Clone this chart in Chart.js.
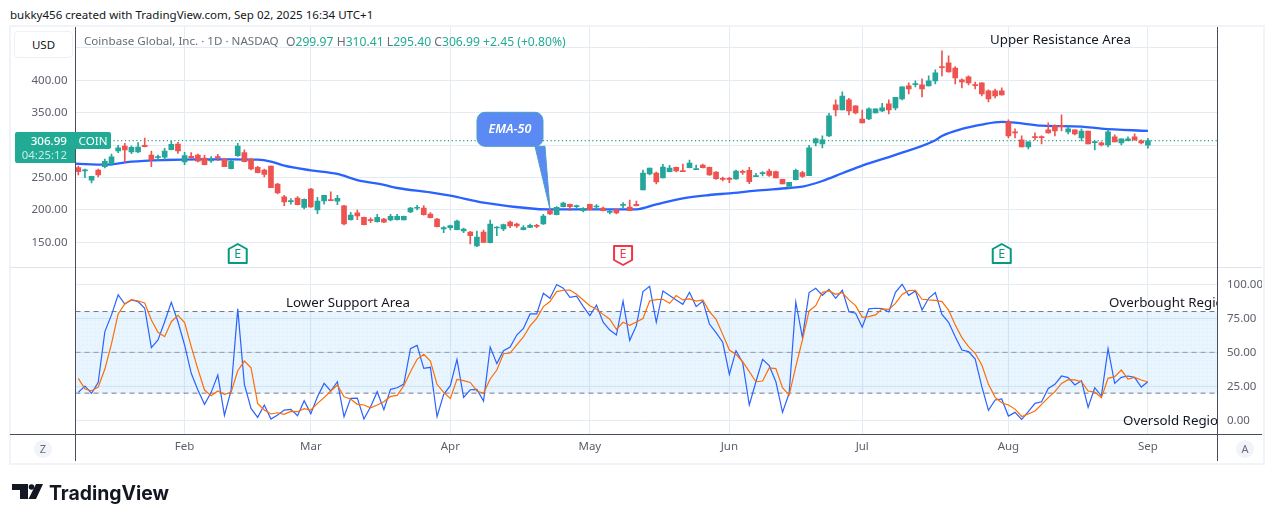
<!DOCTYPE html>
<html>
<head>
<meta charset="utf-8">
<title>COIN</title>
<script src="https://cdn.jsdelivr.net/npm/chart.js@4/dist/chart.umd.min.js"></script>
<style>
html, body { margin: 0; background: #fff; }
body { width: 1281px; height: 522px; position: relative; overflow: hidden; font-family: "Noto Sans", sans-serif; color: #131722; }
div, span { position: absolute; white-space: nowrap; }
canvas { position: absolute; left: 10px; }
#frame { left: 9px; top: 25px; width: 1252px; height: 436px; border: 2px solid #f0f3fa; }
#header { left: 10px; top: 7px; font-size: 11.55px; color: #131722; }
#usd { left: 14px; top: 31px; width: 57px; height: 25px; line-height: 25px; border: 1px solid #eef0f4; border-radius: 4px; text-align: center; font-size: 11.5px; background: #fff; }
#legend { left: 84px; top: 33px; font-size: 11.6px; color: #6a6d78; }
#values { left: 286px; top: 33px; font-size: 12.15px; color: #22ab94; }
#values b { font-weight: 400; color: #6a6d78; }
#priceTag { left: 15px; top: 132px; width: 60px; height: 31px; background: #22ab94; border-radius: 2px 0 0 2px; }
#priceNow { right: 8px; top: 1px; color: #fff; font-size: 11.6px; font-weight: 500; }
#countdown { right: 8px; top: 15px; color: #c6ece6; font-size: 11.4px; }
#coinTag { left: 75px; top: 132px; width: 36px; height: 17px; line-height: 17px; background: #22ab94; color: #fff; font-size: 11.6px; text-align: center; border-radius: 0 2px 2px 0; }
.vline { top: 27px; width: 1px; height: 434px; background: #4a4e5a; }
.hline { left: 10px; width: 1252px; height: 1px; }
.note { font-size: 13.3px; color: #131722; }
#clip { left: 76px; top: 27px; width: 1141px; height: 407px; overflow: hidden; }
.round { width: 18px; height: 18px; line-height: 18px; top: 440px; border-radius: 9px; background: #f0f3fa; color: #6a6d78; font-size: 11px; text-align: center; }
#brand { left: 49px; top: 481px; font-family: Inter, sans-serif; font-size: 19.4px; font-weight: 700; color: #131722; }
</style>
</head>
<body>
<div id="frame"></div>
<div id="header">bukky456 created with TradingView.com, Sep 02, 2025 16:34 UTC+1</div>
<canvas id="price_chart" width="1252" height="240" style="top:27px;width:1252px;height:240px"></canvas>
<canvas id="stoch_chart" width="1252" height="194" style="top:267px;width:1252px;height:194px"></canvas>
<div class="hline" style="top:267px;background:#e0e3eb"></div>
<div class="hline" style="top:434px;background:#4a4e5a"></div>
<div class="vline" style="left:75px"></div>
<div class="vline" style="left:1217px"></div>
<div id="usd">USD</div>
<div id="legend">Coinbase Global, Inc. · 1D · NASDAQ</div>
<div id="values"><b>O</b>299.97 <b>H</b>310.41 <b>L</b>295.40 <b>C</b>306.99 +2.45 (+0.80%)</div>
<div id="priceTag"><span id="priceNow">306.99</span><span id="countdown">04:25:12</span></div>
<div id="coinTag">COIN</div>
<div id="clip">
  <div class="note" style="left:914px;top:3px">Upper Resistance Area</div>
  <div class="note" style="left:210px;top:266px">Lower Support Area</div>
  <div class="note" style="left:1033px;top:266px">Overbought Region</div>
  <div class="note" style="left:1047px;top:384px">Oversold Region</div>
</div>
<div class="round" style="left:34px">Z</div>
<div class="round" style="left:1236px">A</div>
<svg style="position:absolute;left:12px;top:484px" width="31" height="15" viewBox="0 0 31 15">
  <path d="M0 0H16V15H8V6H0Z M24 0H31L24 15H16.5Z" fill="#131722"/><circle cx="19.5" cy="3" r="2.8" fill="#131722"/>
</svg>
<div id="brand">TradingView</div>

<script>
// last 162 daily candles
const opens = [265.2,260.1,245.7,261.6,266.7,271.4,290.9,298.6,289.4,289.4,299.7,284.7,280.6,281.2,293,301.7,274,282.7,284.7,280.1,275.5,281.7,278.1,263.7,283.7,288.3,278.6,265.7,261.6,267.8,240,220,212.8,218.4,204,232.3,199.9,213.8,215.3,213.3,206.1,185,195.3,188.6,184.5,181.9,186,184.5,185,184.5,196.8,202.5,203,193.7,186,170.5,172.6,169.5,167.5,165.9,144.3,165.9,149.4,172.1,170.5,181.3,178.3,169.5,173.1,175.7,178.3,198.8,192.6,205,208.6,205,198.8,208.6,204.5,203,196.3,200.4,207.1,204.5,208.6,230.7,255.4,256.9,249.2,259,265.7,260,265.2,262.1,269.3,265.7,258.5,248.2,248.2,247.7,259.5,261.1,251.3,255.9,260,259,247.2,236.4,246.7,257.5,252.9,303.3,301.8,314.1,362,354.2,369.7,360.4,340.3,340.3,349.6,352.7,363.5,357.3,371.2,391.3,393.3,392.8,391.3,399,420.6,426.8,419,400.5,405.2,392.8,395.9,383.6,383.6,383.6,335.7,319.8,308,297.2,312.6,312.6,323.4,329.6,329.6,320.3,323.4,311,321.8,303.8,303.3,300.2,312.6,303.3,306.9,312.6,306.4,299.97];
const highs = [267.8,263.1,251.8,263.1,278.6,286.3,299.7,302.7,298.6,303.8,311,290.9,284.7,295,305.8,304.3,288.9,288.3,286.3,284.2,282.2,285.8,279.6,277,302.7,292.5,279.6,267.3,263.1,267.8,241,222.5,217.4,220.5,216.9,233.3,219.4,222.5,227.7,222.5,207.1,196.3,199.9,189.1,187.6,193.2,187,193.2,193.2,190.6,204,207.1,206.6,195.7,187,174.1,176.7,184.4,172.1,166.9,167.5,169,184.4,174.1,178.3,182.9,179.8,175.7,178.3,177.7,193.2,200.9,205,212.2,209.1,207.6,203.5,209.1,208.1,204.5,199.3,201.4,211.2,215.3,213.7,261.6,264.7,258.5,270.3,268.8,266.2,270.8,277,269.3,270.8,266.2,259,250.8,250.3,261.6,261.6,265.7,256.4,259,263.1,260,247.7,242.5,263.1,259.5,299.7,311,314.1,349.1,369.7,382,372.2,360.4,354.2,357.3,355.8,364.5,369.7,373.8,389.7,395.9,399,402.1,406.7,416,445.3,437.6,421.1,402.1,406.7,397.4,395.9,385.1,386.6,388.2,338.8,324.9,314.1,304.9,318.8,314.1,334.2,331.1,346.5,328,323.4,324.9,321.8,306.4,304.9,323.4,315.7,309.5,312.6,317.2,308,310.41];
const lows = [253.9,249.8,241.5,250.8,264.7,268.8,288.3,273.4,286.8,288.3,297.1,266.7,276.5,277,292.5,287.3,269.8,279.6,274,269.3,273.4,276,266.7,263.1,282.7,274,261.6,257,250.8,234.4,224.6,206.6,209,207.6,201.4,204,194.2,209,214.3,208.1,176.7,184,185,176.7,180.3,180.9,180.3,182.9,184,184.5,195.8,199.9,191.7,187.5,173.6,164.9,169,169,164.9,147.4,143.3,149.4,148.9,160.3,168,172.6,173.1,169,172.6,172.6,177.7,192.6,192.1,204.5,198.8,202.4,196.8,199.9,200.9,198.3,193.7,193.7,203.5,198.8,206,230.7,253.9,240,249.2,258.5,258.5,259,264.7,262.1,264.7,253.3,247.2,244.6,242,247.2,254.9,240.5,251.3,252.3,251.8,249.2,240,233.3,246.1,250.3,252.9,298.7,295.6,313.1,345,354.2,346.5,348.1,334.2,339.3,349.6,351.7,348.1,354.2,369.7,378.9,389.7,374.3,391.3,394.4,406.7,412.4,394.4,388.2,392.8,386.6,375.8,366.6,372.8,376.9,311,311,297.2,294.1,308,301.8,318.2,314.1,321.8,317.2,315.7,306.4,301.8,292.5,298.7,297.2,304.9,300.2,306.4,307.4,301.8,295.4];
const closes = [259,261.1,251.8,253.9,275,281.7,295.6,292.5,296.6,297.1,297.6,277,281.7,290.9,301.2,290.9,283.7,280.6,275,269.8,276.5,280.6,266.7,275,298.6,274.5,263.1,257.5,254.9,234.4,226.1,212.2,213.8,208.1,216.3,204.5,213.8,222.5,214.3,217.9,178.3,192.2,190.6,177.3,183.4,188.6,180.9,190.1,190.1,190.1,203,204,192.7,188,174.1,172.6,175.7,182.9,170.5,160.3,158.2,150,178.3,173.1,177.2,175.2,175.2,172.6,176.2,174.6,190.6,193.7,204,210.6,205,206,202.4,200.4,205.5,198.8,197.3,195.2,208.1,198.8,206.5,256.9,264.7,243,266.2,264.7,260,259,272.4,263.1,265.2,253.9,248.2,247.2,247.2,260,258,243.6,252.3,256.9,253.3,249.2,240,242.5,261.1,251.8,295.6,309.5,308,345,354.2,375.8,352.7,349.6,334.2,355.8,355.8,357.3,354.2,373.8,389.7,386.6,394.4,386.6,399,411.3,419.6,412.9,403.6,397.4,395.9,391.8,378.9,371.2,375.8,377.4,314.1,318.8,297.2,304.9,311.6,311.6,318.8,321.8,328.5,324.9,317.2,321.8,301.8,304.9,300.2,320.3,304.9,309.5,309.5,308,303.3,306.99];

// EMA-50 read at these bars only
const emaBars = [-0.42,4,8,13,18,23,27,29,31,35,39,42,46,48,53,56,61,69,71,84,87,91,95,98,102,107,109,112,115,118,123,129,130,133,136,139,141,145,151,154,161];
const emaValues = [271.4,269.8,274.5,277,278,278,277.5,274.5,268.3,261.1,255.4,246,238.5,233.8,227.1,222,211.2,201.4,200.9,200.9,208.6,217.9,223,225.6,229.7,233.8,235.9,244.6,256.5,268.4,284.8,307.4,314.1,324.9,331.6,335.7,334.7,330,328.5,325.4,321.8];

// stochastic %K and %D
const stochK = [20.6,25.2,19.9,27.9,65.2,77.5,92.2,85.5,88.5,87.3,82.4,53.4,59.1,72.5,86.8,72.5,55.4,34.6,22.3,11.8,20.6,33.3,3.7,22.3,81.9,26.5,8.8,2.2,11.3,1,3.9,7.6,8.1,3.4,14.5,4.9,17.4,27.2,21.6,28.4,2.7,16.2,16.4,1,10,21.1,7.8,22.8,24,26.7,52.7,55.1,38.2,39,2.7,19.1,25.5,44.9,16.9,22.5,22.8,14.2,53.9,41.7,51.2,53.9,62.7,67.6,78.2,78.2,93.4,89.7,99.8,97.1,90.4,91.2,83.8,77,84.8,72.1,66.4,62.7,87.7,58.8,69.6,94.6,98.5,72.1,95.1,91.7,88.5,85.3,94.1,83.6,87.7,70.8,64.5,57.4,33.8,51.2,42.6,11.3,28.4,44.9,40.2,28.4,5.9,19.9,86.8,60.8,93.9,97.1,91.9,96.3,89.7,95.6,79.9,78.7,68.4,81.9,82.4,82.1,79.7,94.1,100,91.9,95.1,81.1,89.7,93.9,77.9,72.1,61.5,51.7,50.5,45.1,24.8,7.4,15,15.7,3.2,5.9,0.7,6.4,12.5,13.7,23.5,26.5,32.6,31.4,26,29.2,9.6,24,17.9,52.7,27.2,31.6,32.6,31.6,24.5,28.4];
const stochD = [30.9,23,21.8,24.5,37.7,56.4,78.2,85.5,88.7,87.7,86.3,73.8,64.7,61.5,72.5,77.2,71.8,54.2,37.7,22.3,18.1,21.6,19.1,20.6,36.5,43.6,38.7,12.5,7.6,4.7,5.6,4.4,6.6,6.4,8.6,7.6,12.5,16.7,21.6,26,17.4,15.7,11.8,11.3,9.3,11.3,13.7,17.6,18.4,25.5,35.8,44.9,48.5,43.6,26.5,20.6,16.2,30.1,29.2,27.9,21.6,19.9,30.4,37,49,49.5,55.4,61.3,69.4,75,83.6,87.3,94.6,95.6,95.8,92.6,88.5,84.3,81.6,77.9,74.3,66.9,72.1,69.9,72.3,74.8,87.7,88.7,89,86,91.7,88.5,89.2,87.7,88.5,79.9,74.3,63.2,51.7,48.5,43.1,35.8,28.4,28.9,38.5,38,24,18.6,39.5,59.1,80.4,84.3,94.1,95.1,92.6,93.9,88.5,84.3,75.7,76.2,77.5,81.9,81.6,86,92.6,95.3,95.6,89,88.5,88.2,87.3,81.1,70.1,60.8,54.2,49.3,40.7,26.5,16.9,13,11.3,8.3,2.9,4.7,6.9,11.8,16.7,21.1,27.2,29.9,29.7,28.4,21.6,20.8,16.7,30.9,32.1,37,30.4,31.6,29.7,28.2];

const monthBars = [16,35,56,77,98,118,140,161];
const monthLabels = ['Feb','Mar','Apr','May','Jun','Jul','Aug','Sep'];
const priceTicks = [150,200,250,300,350,400,450];
const priceLabels = ['150.00','200.00','250.00','','350.00','400.00',''];
const stochTicks = [0,25,50,75,100];
const earningsBars = [24,82,139];
const earningsColors = ['#089981','#f23645','#089981'];
const emaCalloutBar = 71;

const X_MIN = -0.42;
const X_MAX = 171.4;
const GREEN = '#26a69a';
const RED = '#ef5350';
const GRID = '#e3ebf3';
const AXIS_TEXT = '#5d606b';
const FONT = {family: '"Noto Sans", sans-serif', size: 11.5};

function pairs(xs, ys){
    return xs.map(function (x, i) { return {x: x, y: ys[i]}; });
}

function flatLine(value){
    return [{x: X_MIN, y: value}, {x: X_MAX, y: value}];
}

function candleColors(){
    return closes.map(function (c, i) { return c >= opens[i] ? GREEN : RED; });
}

function noPadding(scale){
    scale.paddingTop = 0;
    scale.paddingBottom = 0;
    scale.paddingLeft = 0;
    scale.paddingRight = 0;
}

// the band between 20 and 80 has a faint dot texture
function bandPattern(ctx){
    var tile = document.createElement('canvas');
    tile.width = 4;
    tile.height = 4;
    var t = tile.getContext('2d');
    t.fillStyle = 'rgba(33,150,243,0.1)';
    t.fillRect(0, 0, 4, 4);
    t.fillStyle = 'rgba(33,150,243,0.07)';
    t.fillRect(1, 1, 1, 1);
    return ctx.createPattern(tile, 'repeat');
}

function xScale(showLabels){
    return {
        type: 'linear',
        min: X_MIN,
        max: X_MAX,
        offset: false,
        border: {display: false},
        grid: {color: GRID, offset: false, drawTicks: false},
        afterBuildTicks: function (scale) {
            scale.ticks = monthBars.map(function (b) { return {value: b}; });
        },
        afterFit: function (scale) {
            noPadding(scale);
            scale.height = showLabels ? 27 : 0;
        },
        ticks: {
            display: showLabels,
            color: AXIS_TEXT,
            font: FONT,
            padding: 6,
            maxRotation: 0,
            autoSkip: false,
            callback: function (v) { return monthLabels[monthBars.indexOf(v)]; }
        }
    };
}

// callout and earnings badges follow the scales
const markersPlugin = {
    id: 'markers',
    afterDatasetsDraw: function (chart) {
        var ctx = chart.ctx;
        var xs = chart.scales.x;
        var ys = chart.scales.y;
        ctx.save();

        var tipX = xs.getPixelForValue(emaCalloutBar);
        var tipY = ys.getPixelForValue(emaValues[emaBars.indexOf(emaCalloutBar)]);
        var l = tipX - 73, t = tipY - 97, w = 66, h = 34;
        ctx.fillStyle = '#5b8af5';
        ctx.strokeStyle = '#4d9fc4';
        ctx.lineWidth = 1;
        ctx.beginPath();
        ctx.moveTo(l + 8, t);
        ctx.arcTo(l + w, t, l + w, t + h, 8);
        ctx.arcTo(l + w, t + h, l, t + h, 8);
        ctx.lineTo(tipX - 5, t + h);
        ctx.lineTo(tipX, tipY);
        ctx.lineTo(tipX - 15, t + h);
        ctx.arcTo(l, t + h, l, t, 8);
        ctx.arcTo(l, t, l + w, t, 8);
        ctx.closePath();
        ctx.fill();
        ctx.stroke();
        ctx.fillStyle = '#fff';
        ctx.font = 'italic 600 12.5px "Noto Sans", sans-serif';
        ctx.textAlign = 'center';
        ctx.textBaseline = 'middle';
        ctx.fillText('EMA-50', l + w / 2, t + h / 2);

        earningsBars.forEach(function (bar, i) {
            var cx = xs.getPixelForValue(bar);
            var up = earningsColors[i] === '#089981';
            var cy = chart.chartArea.bottom - 13;
            ctx.beginPath();
            if (up) {
                ctx.moveTo(cx, cy - 10);
                ctx.lineTo(cx + 9, cy - 5);
                ctx.lineTo(cx + 9, cy + 9);
                ctx.lineTo(cx - 9, cy + 9);
                ctx.lineTo(cx - 9, cy - 5);
            } else {
                ctx.moveTo(cx - 9, cy - 8);
                ctx.lineTo(cx + 9, cy - 8);
                ctx.lineTo(cx + 9, cy + 6);
                ctx.lineTo(cx, cy + 11);
                ctx.lineTo(cx - 9, cy + 6);
            }
            ctx.closePath();
            ctx.fillStyle = '#fff';
            ctx.fill();
            ctx.strokeStyle = earningsColors[i];
            ctx.lineWidth = 2;
            ctx.lineJoin = 'round';
            ctx.stroke();
            ctx.fillStyle = earningsColors[i];
            ctx.font = '12.5px "Noto Sans", sans-serif';
            ctx.fillText('E', cx, cy);
        });
        ctx.restore();
    }
};

var priceCtx = document.getElementById('price_chart').getContext('2d');
var priceChart = new Chart(priceCtx, {
    type: 'bar',
    data: {
        datasets: [
            {
                data: opens.map(function (o, i) { return {x: i, y: [o, closes[i]]}; }),
                backgroundColor: candleColors(),
                barThickness: 5,
                minBarLength: 1,
                grouped: false,
                order: 1
            },
            {
                data: lows.map(function (l, i) { return {x: i, y: [l, highs[i]]}; }),
                backgroundColor: candleColors(),
                barThickness: 1,
                grouped: false,
                order: 2
            },
            {
                type: 'line',
                data: pairs(emaBars, emaValues),
                borderColor: '#2962ff',
                borderWidth: 2.3,
                pointRadius: 0,
                cubicInterpolationMode: 'monotone',
                order: 3
            },
            {
                type: 'line',
                data: flatLine(closes[closes.length - 1]),
                borderColor: '#1fa38d',
                borderWidth: 1.2,
                borderDash: [1.2, 2.6],
                pointRadius: 0,
                order: 4
            }
        ]
    },
    options: {
        responsive: false,
        animation: false,
        layout: {padding: {top: 0, right: 45, bottom: 0, left: 0}},
        plugins: {legend: {display: false}, tooltip: {enabled: false}},
        scales: {
            x: xScale(false),
            y: {
                position: 'left',
                min: 111.9,
                max: 482.2,
                border: {display: false},
                grid: {color: GRID, drawTicks: false},
                afterBuildTicks: function (scale) {
                    scale.ticks = priceTicks.map(function (v) { return {value: v}; });
                },
                afterFit: function (scale) {
                    noPadding(scale);
                    scale.width = 65.5;
                },
                ticks: {
                    color: AXIS_TEXT,
                    font: FONT,
                    padding: 8,
                    callback: function (v) { return priceLabels[priceTicks.indexOf(v)]; }
                }
            }
        }
    },
    plugins: [markersPlugin]
});

var stochCtx = document.getElementById('stoch_chart').getContext('2d');
var stochChart = new Chart(stochCtx, {
    type: 'line',
    data: {
        datasets: [
            {
                data: pairs(opens.map(function (o, i) { return i; }), stochK),
                borderColor: '#2962ff',
                borderWidth: 1.2,
                pointRadius: 0,
                tension: 0,
                order: 2
            },
            {
                data: pairs(opens.map(function (o, i) { return i; }), stochD),
                borderColor: '#ff6d00',
                borderWidth: 1.2,
                pointRadius: 0,
                tension: 0,
                order: 1
            },
            {
                data: flatLine(80),
                borderColor: '#787b86',
                borderWidth: 1,
                borderDash: [5, 4],
                pointRadius: 0,
                backgroundColor: bandPattern(stochCtx),
                fill: '+2',
                order: 5
            },
            {
                data: flatLine(50),
                borderColor: 'rgba(120,123,134,0.7)',
                borderWidth: 1,
                borderDash: [5, 4],
                pointRadius: 0,
                order: 4
            },
            {
                data: flatLine(20),
                borderColor: '#787b86',
                borderWidth: 1,
                borderDash: [5, 4],
                pointRadius: 0,
                order: 3
            }
        ]
    },
    options: {
        responsive: false,
        animation: false,
        layout: {padding: {top: 0, right: 0, bottom: 0, left: 65.5}},
        plugins: {legend: {display: false}, tooltip: {enabled: false}},
        scales: {
            x: xScale(true),
            y: {
                position: 'right',
                min: -10,
                max: 112.7,
                border: {display: false},
                grid: {color: GRID, drawTicks: false},
                afterBuildTicks: function (scale) {
                    scale.ticks = stochTicks.map(function (v) { return {value: v}; });
                },
                afterFit: function (scale) {
                    noPadding(scale);
                    scale.width = 45;
                },
                ticks: {
                    color: AXIS_TEXT,
                    font: FONT,
                    padding: 10,
                    callback: function (v) { return v.toFixed(2); }
                }
            }
        }
    }
});
</script>
</body>
</html>
